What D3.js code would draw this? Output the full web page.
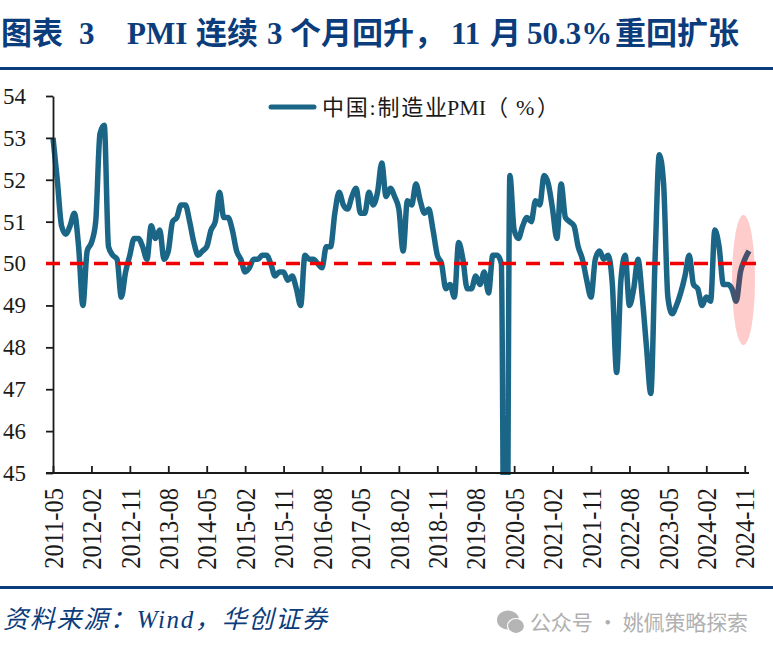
<!DOCTYPE html>
<html><head><meta charset="utf-8">
<script src="https://cdnjs.cloudflare.com/ajax/libs/d3/7.8.5/d3.min.js"></script>
<style>html,body{margin:0;padding:0;background:#fff}svg{display:block}</style>
</head><body><svg id="c" width="773" height="653"></svg>
<script>
const titleRuns = ["图表","3","PMI","连续","3","个月回升，","11","月","50.3%","重回扩张"];
const legendRuns = ["中国:制造业","PMI","（","%","）"];
const sourceText = "资料来源：Wind，华创证券";
const watermarkText = "公众号 · 姚佩策略探索";
const tickLabels = ["2011-05","2012-02","2012-11","2013-08","2014-05","2015-02","2015-11","2016-08","2017-05","2018-02","2018-11","2019-08","2020-05","2021-02","2021-11","2022-08","2023-05","2024-02","2024-11"];
const yTicks = [45,46,47,48,49,50,51,52,53,54];
const refLevel = 50;
const pmi = [
53.0,52.0,50.9,50.7,50.9,51.2,50.4,49.0,50.3,50.5,51.0,53.1,53.3,50.4,50.2,50.1,49.2,49.8,50.2,50.6,50.6,
50.4,50.1,50.9,50.6,50.8,50.1,50.3,51.0,51.1,51.4,51.4,51.0,
50.5,50.2,50.3,50.4,50.8,51.0,51.7,51.1,51.1,50.8,50.3,50.1,
49.8,49.9,50.1,50.1,50.2,50.2,50.0,49.7,49.8,49.8,49.6,49.7,
49.4,49.0,50.2,50.1,50.1,50.0,49.9,50.4,50.4,51.2,51.7,51.4,
51.3,51.6,51.8,51.2,51.2,51.7,51.4,51.7,52.4,51.6,51.8,51.6,
51.3,50.3,51.5,51.4,51.9,51.5,51.2,51.3,50.8,50.2,50.0,49.4,
49.5,49.2,50.5,50.1,49.4,49.4,49.7,49.5,49.8,49.3,50.2,50.2,
50.0,35.7,52.1,50.8,50.6,50.9,51.1,51.0,51.5,51.4,52.1,51.9,
51.3,50.6,51.9,51.1,51.0,50.9,50.4,50.1,49.6,49.2,50.1,50.3,
50.1,50.2,49.5,47.4,49.6,50.2,49.0,49.4,50.1,49.2,48.0,46.9,
50.1,52.6,51.9,49.2,48.8,49.0,49.3,49.7,50.2,49.5,49.4,49.0,
49.2,49.1,50.8,50.4,49.5,49.5,49.4,49.1,49.8,50.1,50.3];

const svg = d3.select("#c");
const navy = "#0b3c7c", teal = "#1b6687", ink = "#1a1a1a";
const serif = "'Liberation Serif','Noto Sans CJK SC',serif";
const x = d3.scaleLinear().domain([0, pmi.length - 1]).range([53, 749]);
const y = d3.scaleLinear().domain([45, 54]).range([473, 96]);

// rules
svg.append("rect").attr("x",0).attr("y",67).attr("width",773).attr("height",3).attr("fill",navy);
svg.append("rect").attr("x",0).attr("y",586).attr("width",773).attr("height",3).attr("fill",navy);

// title, laid out run by run
const titleX = [1,79,127,196,267,290,451,490,527,615];
svg.append("g").selectAll("text").data(titleRuns).join("text")
  .attr("x",(d,i)=>titleX[i]).attr("y",44).attr("font-family",serif).attr("font-weight",700)
  .attr("font-size",31).attr("fill",navy).text(d=>d);

// clip
svg.append("clipPath").attr("id","plot").append("rect").attr("x",40).attr("y",90).attr("width",725).attr("height",385);

// series
const line = d3.line().x((d,i)=>x(i)).y(d=>y(d)).curve(d3.curveMonotoneX);
svg.append("g").attr("clip-path","url(#plot)").append("path").datum(pmi)
  .attr("d",line).attr("fill","none").attr("stroke",teal).attr("stroke-width",5.5)
  .attr("stroke-linejoin","miter").attr("stroke-miterlimit",3);

// axes
const yAxis = d3.axisLeft(y).tickValues(yTicks).tickSizeInner(7).tickSizeOuter(0).tickPadding(20).tickFormat(d3.format("d"));
const gy = svg.append("g").attr("transform","translate(53,0)").call(yAxis);
gy.selectAll("text").attr("font-family",serif).attr("font-size",23).attr("fill",ink);
gy.selectAll("line,path").attr("stroke",ink).attr("stroke-width",1.8);

const xAxis = d3.axisBottom(x).tickValues(tickLabels.map((d,i)=>i*9)).tickSizeInner(-7).tickSizeOuter(0)
  .tickFormat((d,i)=>tickLabels[i]);
const gx = svg.append("g").attr("transform","translate(0,473)").call(xAxis);
gx.selectAll("line,path").attr("stroke",ink).attr("stroke-width",1.8);
gx.select("path").attr("d","M46,0H749");
gx.selectAll("text").attr("font-family",serif).attr("font-size",24.5).attr("fill",ink)
  .attr("text-anchor","end").attr("dy",0)
  .attr("transform","translate(0,15) rotate(-90) scale(1,1.15)").attr("x",0).attr("y",8);

// reference line
svg.append("line").attr("x1",46).attr("x2",756).attr("y1",y(refLevel)).attr("y2",y(refLevel))
  .attr("stroke","#f00000").attr("stroke-width",3.5).attr("stroke-dasharray","14 10");

// highlight ellipse
svg.append("ellipse").attr("cx",743.5).attr("cy",280).attr("rx",11.5).attr("ry",65).attr("fill","rgba(255,0,0,0.2)");

// legend
svg.append("line").attr("x1",271).attr("x2",314).attr("y1",107).attr("y2",107)
  .attr("stroke",teal).attr("stroke-width",5).attr("stroke-linecap","round");
const legendX = [322,447,486,516,537];
svg.append("g").selectAll("text").data(legendRuns).join("text")
  .attr("x",(d,i)=>legendX[i]).attr("y",115).attr("font-family",serif).attr("font-size",22).attr("fill",ink)
  .attr("textLength",(d,i)=>i===0?125:null).attr("lengthAdjust","spacing").text(d=>d);

// source
svg.append("text").attr("x",3).attr("y",628).attr("font-family",serif).attr("font-style","italic")
  .attr("font-size",25).attr("fill",navy).attr("textLength",324).attr("lengthAdjust","spacing").text(sourceText);

// watermark
const wm = svg.append("g").attr("fill","#b4b4b4");
wm.append("ellipse").attr("cx",508).attr("cy",620).attr("rx",11).attr("ry",9.5);
wm.append("ellipse").attr("cx",516).attr("cy",626).attr("rx",8.5).attr("ry",7.5).attr("stroke","#fff").attr("stroke-width",1.2);
svg.append("text").attr("x",530).attr("y",630).attr("font-family","'Noto Sans CJK SC','Noto Sans',sans-serif")
  .attr("font-size",21).attr("fill","#b0b0b0").attr("textLength",218).attr("lengthAdjust","spacing").text(watermarkText);
</script></body></html>
